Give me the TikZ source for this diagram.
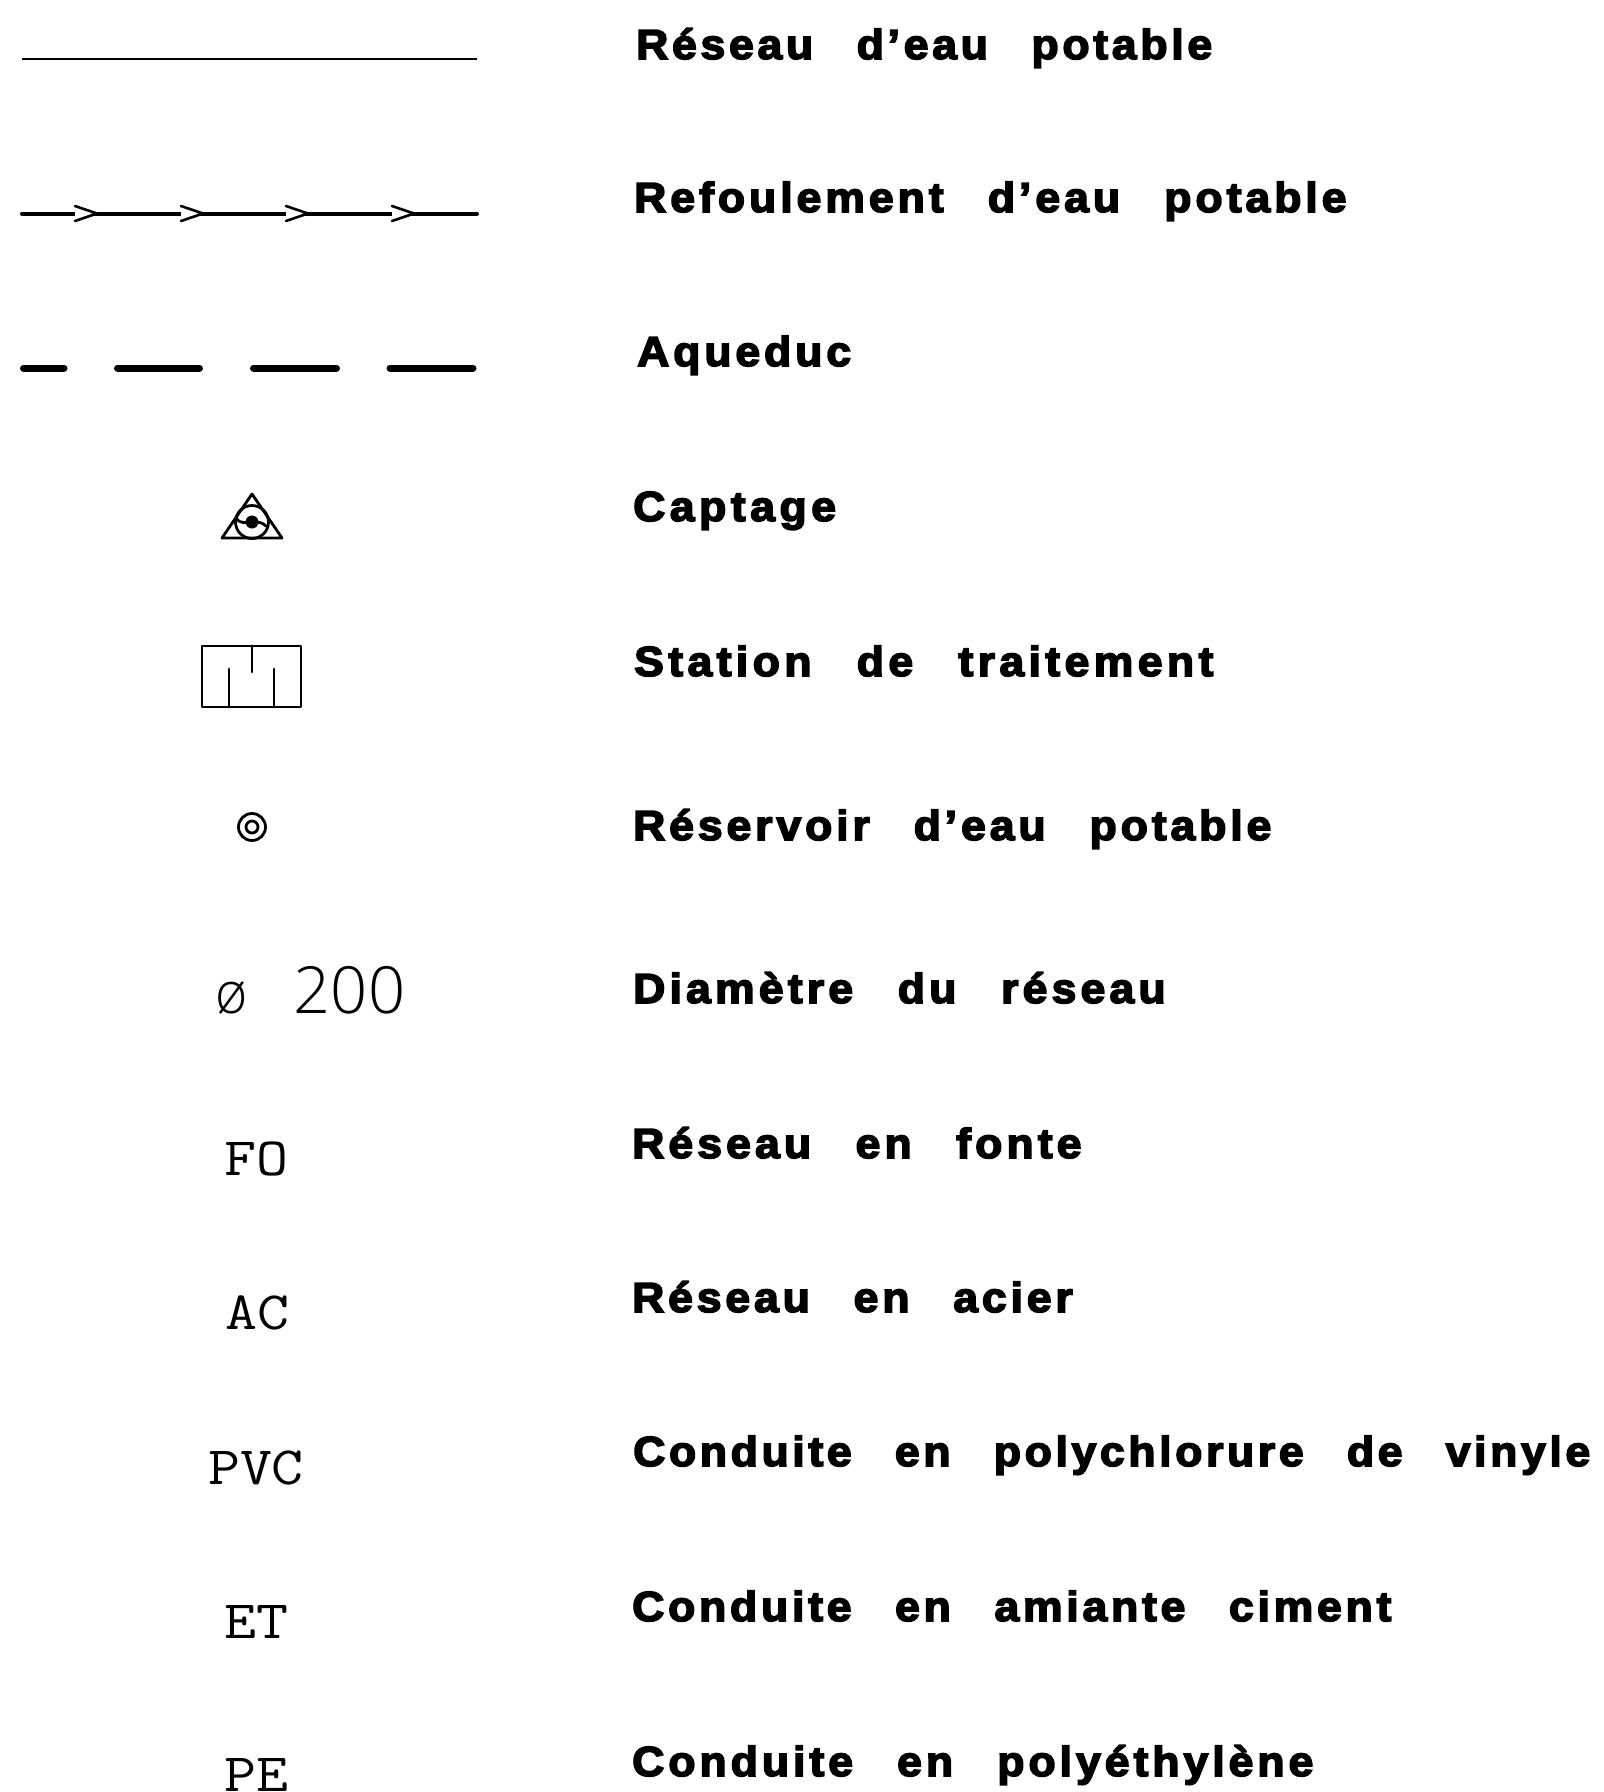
\documentclass[tikz,border=0pt]{standalone}
\usepackage{fontspec}
\setmainfont{Liberation Sans}
\newfontfamily\labfont[FakeBold=3.8,FakeStretch=1.06,LetterSpace=8.5,WordSpace=2.7]{Liberation Sans Bold}
\newfontfamily\thinfont[LetterSpace=1]{Open Sans Light}
\newfontfamily\phifont[FakeStretch=0.95]{Open Sans Light}
\setmonofont{Latin Modern Mono}
\newfontfamily\codefont[FakeStretch=1.15]{Latin Modern Mono}
\tikzset{
  lab/.style={anchor=base west,inner sep=0pt,font=\labfont\fontsize{42}{50}\selectfont\addfontfeature{LetterSpace=#1}},
  code/.style={anchor=base,inner sep=0pt,font=\codefont\fontsize{54}{60}\selectfont},
  thin text/.style={anchor=base west,inner sep=0pt,font=\thinfont\fontsize{65}{70}\selectfont},
  sym/.style={line width=2.8pt,line cap=round,line join=round},
  net/.style={line width=2pt},
  refoul/.style={line width=4pt,line cap=round},
  chev/.style={line width=2.6pt,line cap=round,line join=miter},
  aqueduc/.style={line width=7pt,line cap=round}
}
\begin{document}
\begin{tikzpicture}[x=1pt,y=-1pt]
\useasboundingbox (0,0) rectangle (1604,1792);
% legend labels
\node[lab=8.9] (t1) at (636,59) {Réseau d’eau potable};
\node[lab=9.5] (t2) at (634,212) {Refoulement d’eau potable};
\node[lab=9.3] (t3) at (637,366) {Aqueduc};
\node[lab=10.8] (t4) at (633,521) {Captage};
\node[lab=10.5] (t5) at (634,676) {Station de traitement};
\node[lab=9.3] (t6) at (633,840) {Réservoir d’eau potable};
\node[lab=10] (t7) at (633,1003) {Diamètre du réseau};
\node[lab=9.8] (t8) at (632,1158) {Réseau en fonte};
\node[lab=9.2] (t9) at (632,1312) {Réseau en acier};
\node[lab=8.7] (t10) at (633,1466) {Conduite en polychlorure de vinyle};
\node[lab=9] (t11) at (632,1621) {Conduite en amiante ciment};
\node[lab=9.5] (t12) at (632,1776) {Conduite en polyéthylène};
% line samples
\coordinate (a1) at (22,58.5); \coordinate (a2) at (477,58.5);
\draw[net] (a1) -- (a2);
\coordinate (b1) at (22,213.5); \coordinate (b2) at (477,213.5);
\draw[refoul] (b1) -- (b2);
\foreach \n/\x in {1/97,2/203,3/308,4/414}{
  \coordinate (c\n) at (\x,213.5);
  \draw[chev,fill=white] ([shift={(-22,-7.5)}]c\n) -- (c\n) -- ([shift={(-22,7.5)}]c\n);
}
\foreach \n/\p/\q in {1/23.5/64,2/117.5/199.5,3/253.5/336.5,4/390/473}{
  \coordinate (d\n) at (\p,368); \coordinate (e\n) at (\q,368);
  \draw[aqueduc] (d\n) -- (e\n);
}
% captage
\coordinate (cap) at (252,522);
\draw[sym] (252,494) -- (282,538) -- (222,538) -- cycle;
\draw[sym] (cap) circle (16.5pt);
\fill (cap) circle (6.5pt);
\draw[sym] (236,518) .. controls (241,525) and (246,522) .. (cap);
\draw[sym] (cap) .. controls (258,522) and (262,522) .. (266,526);
% station
\draw[sym] (202,646) rectangle (301,707);
\draw[sym] (252,646) -- (252,672);
\draw[sym] (229,669) -- (229,707);
\draw[sym] (274,669) -- (274,707);
% reservoir
\coordinate (res) at (252,827);
\draw[sym] (res) circle (13.5pt);
\draw[sym] (res) circle (6pt);
% diameter
\node[anchor=base west,inner sep=0pt,font=\phifont\fontsize{58}{60}\selectfont] (phi) at (215,1013) {ø};
\node[thin text] (dia) at (293,1013) {200};
% codes
\node[code] (m1) at (256,1175) {FO};
\node[code] (m2) at (257,1329) {AC};
\node[code] (m3) at (256,1484) {PVC};
\node[code] (m4) at (256,1638) {ET};
\node[code] (m5) at (256,1791) {PE};
\end{tikzpicture}
\end{document}
